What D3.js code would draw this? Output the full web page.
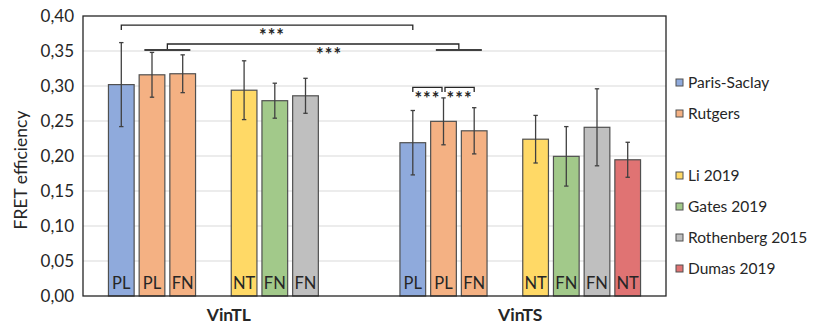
<!DOCTYPE html>
<html><head><meta charset="utf-8">
<script src="https://cdn.jsdelivr.net/npm/d3@7"></script>
<style>
html,body{margin:0;padding:0;background:#fff;}
text{font-family:Lato,"Open Sans",sans-serif;fill:#262626;}
</style></head>
<body><svg id="c" width="813" height="326"></svg>
<script>
const categories = ["VinTL", "VinTS"];
const slots = ["Paris-Saclay PL", "Rutgers PL", "Rutgers FN", "gap", "Li 2019", "Gates 2019", "Rothenberg 2015", "Dumas 2019"];
const slotColors = ["#8faadc", "#f4b183", "#f4b183", null, "#ffd966", "#a2c98a", "#bfbfbf", "#e07373"];
const barLabels = ["PL", "PL", "FN", null, "NT", "FN", "FN", "NT"];
const vinTL = [0.302, 0.316, 0.3175, null, 0.294, 0.279, 0.286, null];
const vinTLErr = [0.060, 0.032, 0.027, null, 0.042, 0.025, 0.025, null];
const vinTS = [0.219, 0.2495, 0.236, null, 0.224, 0.1995, 0.241, 0.1946];
const vinTSErr = [0.046, 0.0335, 0.033, null, 0.034, 0.0425, 0.055, 0.025];
const yTicks = [0, 0.05, 0.10, 0.15, 0.20, 0.25, 0.30, 0.35, 0.40];
const legendNames = ["Paris-Saclay", "Rutgers", null, "Li 2019", "Gates 2019", "Rothenberg 2015", "Dumas 2019"];
const legendColors = ["#8faadc", "#f4b183", null, "#ffd966", "#a2c98a", "#bfbfbf", "#e07373"];
// significance brackets
const brackets = [
  {from: [0, [0]], to: [1, [0]], y: 0.387, y2: 0.380, starDx: 5, starY: 0.3785, wide: false},
  {from: [0, [1, 2]], to: [1, [1, 2]], y: 0.360, y2: 0.3515, starDx: 16, starY: 0.3505, wide: true},
  {from: [1, [0]], to: [1, [1]], y: 0.298, y2: 0.2915, starDx: 0, starY: 0.2883, wide: false, gapR: 1.5},
  {from: [1, [1]], to: [1, [2]], y: 0.298, y2: 0.2915, starDx: 0, starY: 0.2883, wide: false, gapL: 1.5}
];

const values = [vinTL, vinTS];
const errors = [vinTLErr, vinTSErr];

const svg = d3.select("#c");
const L = 83, R = 666, T = 16, B = 296;
const y = d3.scaleLinear().domain([0, 0.40]).range([B, T]);
const x0 = d3.scaleBand().domain(categories).range([L, R]).padding(0);
const x1 = d3.scaleBand().domain(slots).range([0, x0.bandwidth()]).paddingInner(0.163).paddingOuter(0.829);
const fmt = v => d3.format(".2f")(v).replace(".", ",");

// gridlines
svg.append("g").selectAll("line").data(yTicks.filter(t => t > 0 && t < 0.4)).join("line")
  .attr("x1", L).attr("x2", R).attr("y1", d => y(d)).attr("y2", d => y(d))
  .attr("stroke", "#d9d9d9").attr("stroke-width", 1);

// y axis labels
const yAxis = d3.axisLeft(y).tickValues(yTicks).tickFormat(fmt).tickSize(0).tickPadding(9);
const ya = svg.append("g").attr("transform", `translate(${L},0)`).call(yAxis);
ya.select(".domain").remove();
ya.selectAll("text").attr("font-size", 17).attr("font-family", "Lato").attr("fill", "#262626").attr("dy", "0.35em");

// y title
svg.append("text").attr("transform", `translate(27,${(T + B) / 2 + 14}) rotate(-90)`)
  .attr("text-anchor", "middle").attr("font-size", 17.5).text("FRET efficiency");

// bars
const gCat = svg.append("g").selectAll("g").data(categories).join("g")
  .attr("transform", d => `translate(${x0(d)},0)`);
gCat.each(function(cat, ci) {
  const g = d3.select(this);
  const data = slots.map((s, i) => ({s, i, v: values[ci][i], e: errors[ci][i]})).filter(d => d.v != null);
  g.selectAll("rect").data(data).join("rect")
    .attr("x", d => x1(d.s)).attr("width", x1.bandwidth())
    .attr("y", d => y(d.v)).attr("height", d => y(0) - y(d.v))
    .attr("fill", d => slotColors[d.i]).attr("stroke", "#505050").attr("stroke-width", 1.2);
  const eb = g.selectAll("g.eb").data(data).join("g").attr("class", "eb")
    .attr("stroke", "#404040").attr("stroke-width", 1.3);
  const cxs = d => x1(d.s) + x1.bandwidth() / 2;
  eb.append("line").attr("x1", cxs).attr("x2", cxs)
    .attr("y1", d => y(d.v + d.e)).attr("y2", d => y(d.v - d.e));
  eb.append("line").attr("x1", d => cxs(d) - 2.2).attr("x2", d => cxs(d) + 2.2)
    .attr("y1", d => y(d.v + d.e)).attr("y2", d => y(d.v + d.e));
  eb.append("line").attr("x1", d => cxs(d) - 2.2).attr("x2", d => cxs(d) + 2.2)
    .attr("y1", d => y(d.v - d.e)).attr("y2", d => y(d.v - d.e));
  g.selectAll("text.bl").data(data).join("text").attr("class", "bl")
    .attr("x", cxs).attr("y", 289)
    .attr("text-anchor", "middle").attr("font-size", 16.5).text(d => barLabels[d.i]);
});

// frame
svg.append("rect").attr("x", L).attr("y", T).attr("width", R - L).attr("height", B - T)
  .attr("fill", "none").attr("stroke", "#262626").attr("stroke-width", 1.3);

// category labels
svg.append("g").selectAll("text").data(categories).join("text")
  .attr("x", d => x0(d) + x0.bandwidth() / 2).attr("y", 321)
  .attr("text-anchor", "middle").attr("font-size", 17.5).attr("font-weight", "bold").text(d => d);

// brackets
const cx = (ci, sl) => x0(categories[ci]) + d3.mean(sl, s => x1(slots[s]) + x1.bandwidth() / 2);
const bg = svg.append("g");
brackets.forEach(b => {
  const xa = cx(b.from[0], b.from[1]) + (b.gapL || 0);
  const xb = cx(b.to[0], b.to[1]) - (b.gapR || 0);
  bg.append("path").attr("d", `M${xa},${y(b.y2)}V${y(b.y)}H${xb}V${y(b.y2)}`)
    .attr("fill", "none").attr("stroke", "#262626").attr("stroke-width", 1.3);
  if (b.wide) {
    [xa, xb].forEach(xc => {
      bg.append("line").attr("x1", xc - 23).attr("x2", xc + 23).attr("y1", y(b.y2)).attr("y2", y(b.y2))
        .attr("stroke", "#404040").attr("stroke-width", 2);
    });
  }
  bg.append("text").attr("x", (xa + xb) / 2 + b.starDx).attr("y", y(b.starY) + 10.5)
    .attr("text-anchor", "middle").attr("font-size", 18).attr("font-weight", "bold").attr("fill", "#505050")
    .attr("letter-spacing", 1).text("***");
});

// legend
const lg = svg.append("g").selectAll("g").data(legendNames.map((n, i) => ({n, i})).filter(d => d.n))
  .join("g").attr("transform", d => `translate(676,${82.5 + 31 * d.i})`);
lg.append("rect").attr("x", 0).attr("y", -3.5).attr("width", 7).attr("height", 7)
  .attr("fill", d => legendColors[d.i]).attr("stroke", "#505050").attr("stroke-width", 1);
lg.append("text").attr("x", 12).attr("y", 0).attr("dy", "0.35em").attr("font-size", 15.5).text(d => d.n);
</script></body></html>
